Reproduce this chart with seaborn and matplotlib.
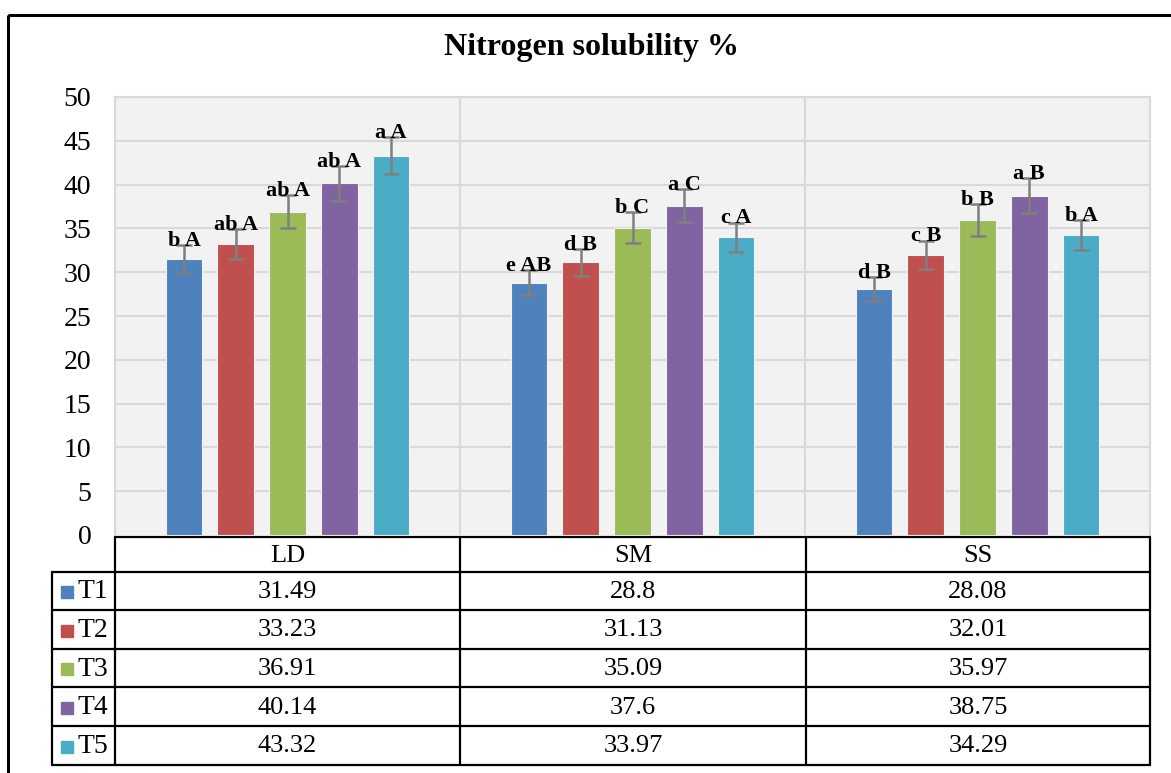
import numpy as np
import pandas as pd
import matplotlib
matplotlib.use('Agg')
import matplotlib.pyplot as plt
import seaborn as sns

# 数据
groups = ['LD', 'SM', 'SS']
treatments = ['T1', 'T2', 'T3', 'T4', 'T5']
t1 = [31.49, 28.8, 28.08]
t2 = [33.23, 31.13, 32.01]
t3 = [36.91, 35.09, 35.97]
t4 = [40.14, 37.6, 38.75]
t5 = [43.32, 33.97, 34.29]
# 误差线 (从图上估计)
err_t1 = [1.6, 1.45, 1.4]
err_t2 = [1.7, 1.55, 1.6]
err_t3 = [1.85, 1.75, 1.8]
err_t4 = [2.0, 1.9, 1.95]
err_t5 = [2.15, 1.7, 1.7]
# 显著性字母
lab_t1 = ['b A', 'e AB', 'd B']
lab_t2 = ['ab A', 'd B', 'c B']
lab_t3 = ['ab A', 'b C', 'b B']
lab_t4 = ['ab A', 'a C', 'a B']
lab_t5 = ['a A', 'c A', 'b A']

values = [t1, t2, t3, t4, t5]
errors = [err_t1, err_t2, err_t3, err_t4, err_t5]
letters = [lab_t1, lab_t2, lab_t3, lab_t4, lab_t5]
colors = ['#4F81BD', '#C0504D', '#9BBB59', '#8064A2', '#4BACC6']

df = pd.DataFrame({
    'group': [g for _ in treatments for g in groups],
    'treat': [t for t in treatments for _ in groups],
    'value': [v for vals in values for v in vals],
})

sns.set_style('white')
plt.rcParams['font.family'] = ['Liberation Serif', 'DejaVu Serif']
plt.rcParams['text.color'] = 'black'
plt.rcParams['ytick.labelcolor'] = 'black'
plt.rcParams['ytick.color'] = 'black'

W, H = 1171, 773
fig = plt.figure(figsize=(W / 100, H / 100), dpi=100)
fig.patch.set_facecolor('white')

# 主坐标轴 (像素位置)
L, R, T, B = 115, 1150, 97, 535
ax = fig.add_axes([L / W, 1 - B / H, (R - L) / W, (B - T) / H])
ax.set_facecolor('#F2F2F2')

sns.barplot(data=df, x='group', y='value', hue='treat', order=groups,
            hue_order=treatments, palette=colors, saturation=1,
            width=0.75, gap=0.29, errorbar=None, legend=False, ax=ax,
            zorder=3, edgecolor='#F2F2F2', linewidth=0.8)

for cont, errs, labs in zip(ax.containers, errors, letters):
    xs = [p.get_x() + p.get_width() / 2 for p in cont]
    ys = [p.get_height() for p in cont]
    ax.errorbar(xs, ys, yerr=errs, fmt='none', ecolor='#7F7F7F',
                elinewidth=1.8, capsize=6, capthick=1.8, zorder=4)
    for x, y, e, lab in zip(xs, ys, errs, labs):
        ax.text(x, y + e - 0.1, lab, ha='center', va='baseline',
                fontsize=16, fontweight='bold', color='black', zorder=5)

ax.set_ylim(0, 50)
ax.set_xlim(-0.5, 2.5)
ax.set_yticks(np.arange(0, 51, 5))
ax.set_yticklabels([str(v) for v in range(0, 51, 5)], fontsize=20,
                   color='black')
ax.tick_params(axis='y', length=0, pad=17)
ax.set_xticks([])
ax.set_xlabel('')
ax.set_ylabel('')
for y in range(5, 51, 5):
    ax.axhline(y, color='#D9D9D9', lw=1.5, zorder=1)
for x in [0.5, 1.5]:
    ax.axvline(x, color='#D9D9D9', lw=1.5, zorder=1)
for s in ['left', 'right', 'top']:
    ax.spines[s].set_color('#D9D9D9')
    ax.spines[s].set_linewidth(1.5)
ax.spines['bottom'].set_visible(False)

# 叠加坐标轴：标题、外框、数据表
ov = fig.add_axes([0, 0, 1, 1], zorder=5)
ov.set_xlim(0, W)
ov.set_ylim(H, 0)
ov.axis('off')
ov.patch.set_alpha(0)

ov.add_patch(plt.Rectangle((8, 15), W + 20, H + 20, fill=False,
                           edgecolor='black', lw=2.2))
ov.text(592, 48, 'Nitrogen solubility %', ha='center', va='center',
        fontsize=23, fontweight='bold', color='black')

col_x = [115, 460, 806, 1150]
row_y = [537, 572, 610, 649, 687, 726, 765]
lbl_x = 52
lw = 1.6
ov.plot([col_x[0], col_x[-1]], [row_y[0], row_y[0]], color='black', lw=lw)
for y in row_y[1:]:
    ov.plot([lbl_x, col_x[-1]], [y, y], color='black', lw=lw)
ov.plot([lbl_x, lbl_x], [row_y[1], row_y[-1]], color='black', lw=lw)
for x in col_x:
    ov.plot([x, x], [row_y[0], row_y[-1]], color='black', lw=lw)

for j, g in enumerate(groups):
    cx = (col_x[j] + col_x[j + 1]) / 2
    ov.text(cx, (row_y[0] + row_y[1]) / 2 + 1, g, ha='center', va='center',
            fontsize=19, color='black')
for i, (t, vals) in enumerate(zip(treatments, values)):
    cy = (row_y[i + 1] + row_y[i + 2]) / 2 + 1
    ov.add_patch(plt.Rectangle((61, cy - 6), 12, 12, color=colors[i]))
    ov.text(78, cy, t, ha='left', va='center', fontsize=20, color='black')
    for j, v in enumerate(vals):
        cx = (col_x[j] + col_x[j + 1]) / 2
        ov.text(cx, cy, str(v), ha='center', va='center', fontsize=19,
                color='black')

fig.savefig('out.png', dpi=100)
